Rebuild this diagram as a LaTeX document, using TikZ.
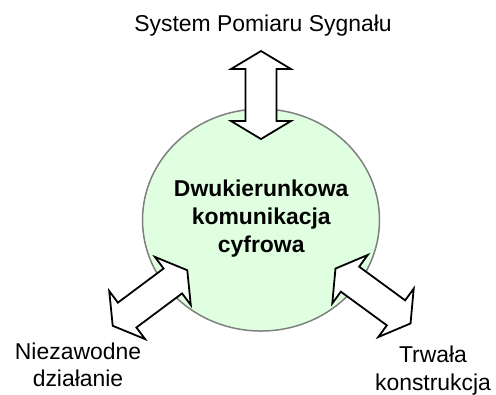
\documentclass[tikz,border=0pt]{standalone}
\usepackage{fontspec}
\setmainfont{Liberation Sans}
\definecolor{blobgreen}{RGB}{224,255,224}
\definecolor{rimgray}{RGB}{128,128,128}
\begin{document}
\begin{tikzpicture}[x=1bp,y=-1bp,
  lbl/.style={font=\fontsize{23}{27.6}\selectfont, inner sep=0pt, align=center},
  blob/.style={draw=rimgray, fill=blobgreen, line width=1.5bp},
  arrowbody/.style={draw=black, fill=white, line width=1.8bp, line join=miter},
  pics/dblarrow/.style={code={
    \draw[arrowbody] (0,-#1) -- (30,-#1+18) -- (15.5,-#1+18) -- (15.5,#1-18) -- (30,#1-18)
      -- (0,#1) -- (-30,#1-18) -- (-15.5,#1-18) -- (-15.5,-#1+18) -- (-30,-#1+18) -- cycle;
  }}]
\useasboundingbox (0,0) rectangle (496,394);
\draw[blob] (261,220) ellipse [x radius=118.5, y radius=111];
\pic at (261,95) {dblarrow=44};
\pic[rotate=-53.3] at (150,298) {dblarrow=46.5};
\pic[rotate=53.8] at (373,296) {dblarrow=46.5};
\node[lbl, anchor=base] (title) at (263,31.7) {System Pomiaru Sygnału};
\node[lbl, font=\fontsize{23}{28}\selectfont\bfseries] (hub) at (261.2,218.9) {Dwukierunkowa\\komunikacja\\cyfrowa};
\node[lbl] (left) at (78,364.7) {Niezawodne\\działanie};
\node[lbl] (right) at (433,370.5) {Trwała\\konstrukcja};
\end{tikzpicture}
\end{document}
